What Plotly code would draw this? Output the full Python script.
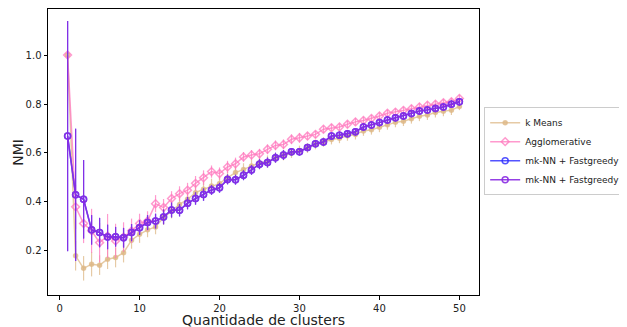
import plotly.graph_objects as go

clusters = list(range(1, 51))

kmeans = [1.0, 0.180, 0.129, 0.146, 0.142, 0.166, 0.173, 0.193, 0.244, 0.268,
          0.286, 0.298, 0.336, 0.363, 0.390, 0.411, 0.438, 0.452, 0.465, 0.475,
          0.499, 0.520, 0.533, 0.547, 0.560, 0.565, 0.580, 0.590, 0.600, 0.610,
          0.620, 0.635, 0.645, 0.655, 0.660, 0.670, 0.675, 0.690, 0.695, 0.705,
          0.715, 0.725, 0.730, 0.740, 0.750, 0.755, 0.765, 0.770, 0.775, 0.790]
kmeans_err = [0.0, 0.06, 0.05, 0.05, 0.04, 0.04, 0.04, 0.04, 0.035, 0.035,
              0.03, 0.03, 0.03, 0.03, 0.03, 0.03, 0.03, 0.03, 0.03, 0.03,
              0.025, 0.025, 0.025, 0.025, 0.025, 0.025, 0.02, 0.02, 0.02, 0.02,
              0.02, 0.02, 0.02, 0.02, 0.02, 0.02, 0.02, 0.02, 0.02, 0.02,
              0.02, 0.02, 0.02, 0.02, 0.02, 0.02, 0.02, 0.02, 0.02, 0.015]

agglo = [1.0, 0.380, 0.312, 0.282, 0.234, 0.261, 0.241, 0.257, 0.282, 0.312,
         0.322, 0.393, 0.377, 0.414, 0.434, 0.448, 0.476, 0.499, 0.524, 0.516,
         0.543, 0.556, 0.584, 0.592, 0.597, 0.615, 0.631, 0.635, 0.656, 0.662,
         0.669, 0.676, 0.697, 0.703, 0.706, 0.717, 0.727, 0.733, 0.741, 0.751,
         0.762, 0.767, 0.774, 0.781, 0.788, 0.795, 0.799, 0.805, 0.809, 0.823]
agglo_err = [0.0, 0.09, 0.08, 0.09, 0.08, 0.09, 0.07, 0.06, 0.05, 0.04,
             0.04, 0.035, 0.035, 0.03, 0.03, 0.03, 0.03, 0.03, 0.025, 0.025,
             0.025, 0.025, 0.02, 0.02, 0.02, 0.02, 0.02, 0.02, 0.02, 0.02,
             0.015, 0.015, 0.015, 0.015, 0.015, 0.015, 0.015, 0.015, 0.015, 0.015,
             0.015, 0.015, 0.015, 0.015, 0.015, 0.015, 0.015, 0.015, 0.015, 0.015]

mknn = [0.669, 0.429, 0.411, 0.286, 0.275, 0.257, 0.258, 0.254, 0.275, 0.295,
        0.316, 0.322, 0.339, 0.367, 0.366, 0.395, 0.414, 0.430, 0.449, 0.458,
        0.492, 0.491, 0.509, 0.531, 0.554, 0.561, 0.581, 0.592, 0.605, 0.605,
        0.622, 0.638, 0.645, 0.669, 0.672, 0.679, 0.687, 0.706, 0.714, 0.724,
        0.735, 0.744, 0.751, 0.761, 0.771, 0.776, 0.782, 0.788, 0.799, 0.809]
mknn_err = [0.47, 0.27, 0.16, 0.06, 0.06, 0.05, 0.04, 0.04, 0.035, 0.03,
            0.03, 0.03, 0.03, 0.03, 0.025, 0.025, 0.025, 0.025, 0.02, 0.02,
            0.02, 0.02, 0.02, 0.02, 0.02, 0.02, 0.02, 0.02, 0.015, 0.015,
            0.015, 0.015, 0.015, 0.015, 0.015, 0.015, 0.015, 0.015, 0.015, 0.015,
            0.015, 0.015, 0.015, 0.015, 0.015, 0.015, 0.015, 0.015, 0.015, 0.015]

mknn_pca = list(mknn)
mknn_pca_err = list(mknn_err)

x_title = "Quantidade de clusters"
y_title = "NMI"

series = [
    ("k Means", kmeans, kmeans_err, "rgba(222,184,135,0.75)", "circle", 4),
    ("Agglomerative", agglo, agglo_err, "rgba(255,120,190,0.75)", "diamond-open", 6),
    ("mk-NN + Fastgreedy", mknn, mknn_err, "rgba(40,40,255,0.8)", "circle-open", 6),
    ("mk-NN + Fastgreedy + PCA", mknn_pca, mknn_pca_err, "rgba(138,43,226,0.9)", "circle-open", 6),
]

fig = go.Figure()
for name, ys, errs, color, sym, size in series:
    fig.add_trace(go.Scatter(
        x=clusters, y=ys, name=name, mode="lines+markers",
        line=dict(color=color, width=1.5),
        marker=dict(symbol=sym, size=size, color=color, line=dict(color=color, width=1.5)),
        error_y=dict(type="data", array=errs, visible=True, color=color, thickness=1.2, width=0),
    ))

# page has an 8px body margin, so the figure is sized 8px smaller and shifted
fig.update_layout(
    width=619, height=320,
    margin=dict(l=40, r=148, t=1, b=33, autoexpand=False),
    paper_bgcolor="white", plot_bgcolor="white",
    font=dict(family="DejaVu Sans", size=10, color="#222"),
    showlegend=True,
    legend=dict(x=1.012, y=0.503, xanchor="left", yanchor="middle",
                bordercolor="#cccccc", borderwidth=1, bgcolor="white",
                font=dict(size=9), tracegroupgap=0, itemwidth=30),
    xaxis=dict(range=[-1.45, 52.45], tickmode="array", tickvals=[0, 10, 20, 30, 40, 50],
               showgrid=False, zeroline=False, showline=True, linecolor="black", linewidth=1,
               mirror=True, ticks="outside", ticklen=3.5, tickcolor="black"),
    yaxis=dict(range=[0.02, 1.188], tickmode="array", tickvals=[0.2, 0.4, 0.6, 0.8, 1.0],
               ticktext=["0.2", "0.4", "0.6", "0.8", "1.0"],
               showgrid=False, zeroline=False, showline=True, linecolor="black", linewidth=1,
               mirror=True, ticks="outside", ticklen=3.5, tickcolor="black"),
    annotations=[
        dict(text=x_title, xref="paper", yref="paper", x=0.5, y=-0.052, xanchor="center",
             yanchor="top", showarrow=False, font=dict(size=14, color="#222")),
        dict(text=y_title, xref="paper", yref="paper", x=-0.07, y=0.5, xanchor="center",
             yanchor="middle", textangle=-90, showarrow=False, font=dict(size=14, color="#222")),
    ],
)

fig.write_html("out.html")
